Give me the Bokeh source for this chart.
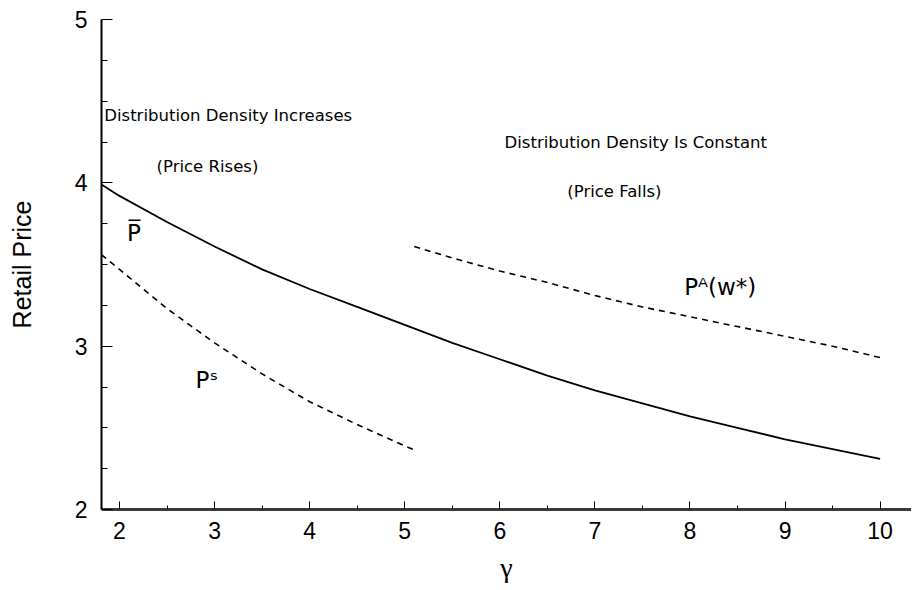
from bokeh.plotting import figure
from bokeh.models import Range1d, FixedTicker
from bokeh.core.properties import value
from bokeh.embed import file_html
from bokeh.resources import INLINE

# gamma values and price curves
gamma_bar = [1.81, 2.0, 2.5, 3.0, 3.5, 4.0, 4.5, 5.0, 5.5, 6.0, 6.5, 7.0, 7.5, 8.0, 8.5, 9.0, 9.5, 10.0]
p_bar = [3.99, 3.92, 3.76, 3.61, 3.47, 3.35, 3.24, 3.13, 3.02, 2.92, 2.82, 2.73, 2.65, 2.57, 2.50, 2.43, 2.37, 2.31]

gamma_s = [1.81, 2.0, 2.5, 3.0, 3.5, 4.0, 4.5, 5.0, 5.1]
p_s = [3.56, 3.47, 3.23, 3.02, 2.83, 2.66, 2.52, 2.39, 2.365]

gamma_a = [5.1, 5.5, 6.0, 6.5, 7.0, 7.5, 8.0, 8.5, 9.0, 9.5, 10.0]
p_a = [3.61, 3.54, 3.46, 3.39, 3.31, 3.24, 3.18, 3.12, 3.06, 3.00, 2.93]

x_ticks = [2, 3, 4, 5, 6, 7, 8, 9, 10]
y_ticks = [2, 3, 4, 5]

FONT = "Liberation Sans"

p = figure(width=911, height=588, output_backend="svg", toolbar_location=None,
           x_range=Range1d(1.811, 10.33), y_range=Range1d(2, 5),
           min_border_left=101, min_border_right=0, min_border_top=19, min_border_bottom=79)
p.outline_line_color = None
p.xgrid.visible = False
p.ygrid.visible = False
p.background_fill_color = "white"

p.line(gamma_bar, p_bar, line_color="black", line_width=1.8)
p.line(gamma_s, p_s, line_color="black", line_width=1.6, line_dash="6 5")
p.line(gamma_a, p_a, line_color="black", line_width=1.6, line_dash="6 5")

# annotations
ann_x = [1.84, 2.39, 6.05, 6.71]
ann_y = [4.41, 4.10, 4.25, 3.95]
ann_t = ["Distribution Density Increases", "(Price Rises)",
         "Distribution Density Is Constant", "(Price Falls)"]
p.text(x=ann_x, y=ann_y, text=ann_t, text_font=value("DejaVu Sans"), text_font_size="16.5px",
       text_baseline="middle", text_align="left", text_color="black")

lab_x = [2.08, 2.80, 7.94]
lab_y = [3.69, 2.79, 3.36]
lab_t = ["P\u0305", "P\u02e2", "P\u1d2c(w*)"]
p.text(x=lab_x, y=lab_y, text=lab_t, text_font=value("DejaVu Sans"), text_font_size="23px",
       text_baseline="middle", text_align="left", text_color="black")

# axes
xa = p.xaxis[0]
xa.ticker = FixedTicker(ticks=x_ticks, minor_ticks=[2.5, 3.5, 4.5, 5.5, 6.5, 7.5, 8.5, 9.5])
xa.axis_line_color = "#3a3a3a"
xa.axis_line_width = 3
xa.major_tick_in = 8
xa.major_tick_out = 0
xa.minor_tick_in = 4
xa.minor_tick_out = 0
xa.major_tick_line_color = "black"
xa.minor_tick_line_color = "black"
xa.major_label_text_font = FONT
xa.major_label_text_font_size = "23px"
xa.major_label_text_color = "black"
xa.major_label_standoff = 12
xa.axis_label = "\u03b3"
xa.axis_label_text_font = "Liberation Serif"
xa.axis_label_text_font_style = "normal"
xa.axis_label_text_font_size = "28px"
xa.axis_label_text_color = "black"
xa.axis_label_standoff = 10

ya = p.yaxis[0]
ya.ticker = FixedTicker(ticks=y_ticks, minor_ticks=[2.25, 2.5, 2.75, 3.25, 3.5, 3.75, 4.25, 4.5, 4.75])
ya.axis_line_color = "black"
ya.axis_line_width = 2
ya.major_tick_in = 11
ya.major_tick_out = 0
ya.minor_tick_in = 6
ya.minor_tick_out = 0
ya.major_tick_line_color = "black"
ya.minor_tick_line_color = "black"
ya.major_label_text_font = FONT
ya.major_label_text_font_size = "23px"
ya.major_label_text_color = "black"
ya.major_label_standoff = 14
ya.axis_label = "Retail Price"
ya.axis_label_text_font = FONT
ya.axis_label_text_font_style = "normal"
ya.axis_label_text_font_size = "25px"
ya.axis_label_text_color = "black"
ya.axis_label_standoff = 36

open("out.html", "w").write(file_html(p, INLINE))
